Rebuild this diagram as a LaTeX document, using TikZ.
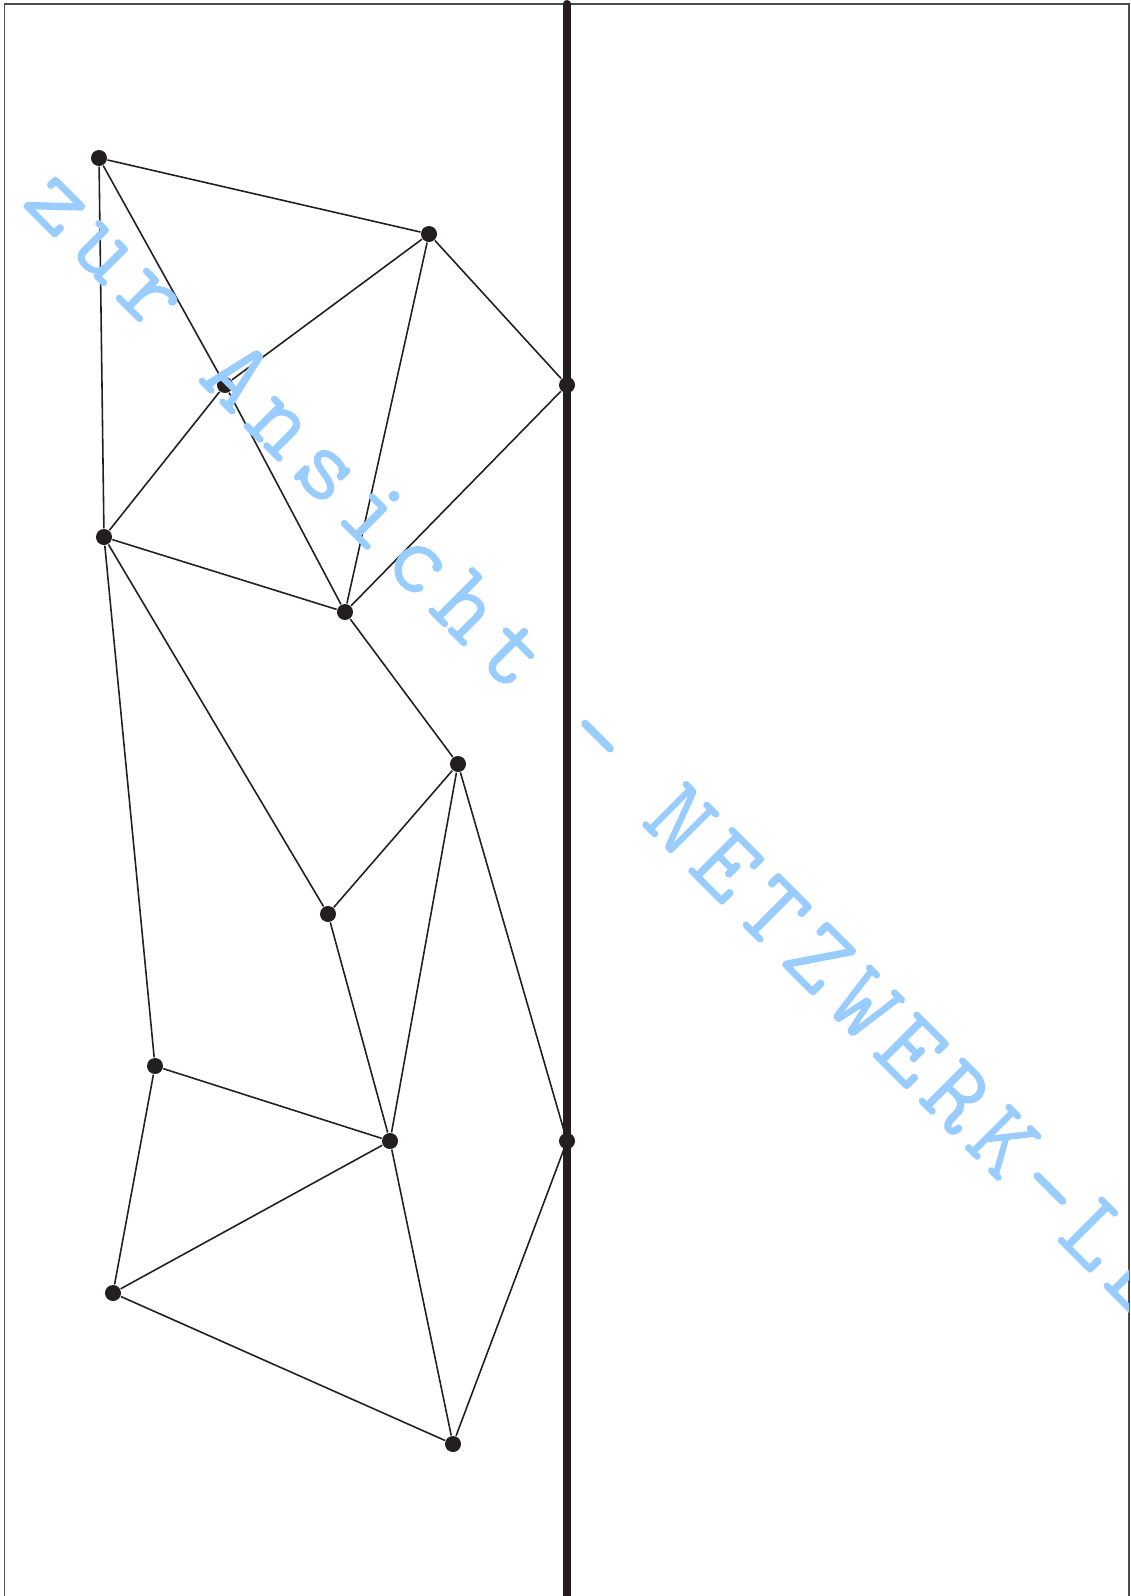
\documentclass[tikz,border=0pt]{standalone}
\usepackage{fontspec}
\newfontfamily\wmfont[LetterSpace=12.6, FakeBold=2.5]{lmmonolt10-regular.otf}
\begin{document}
\begin{tikzpicture}[x=0.01cm, y=-0.01cm]
	\definecolor{netzblack}{RGB}{35,31,32}
	\definecolor{wmblue}{RGB}{153,204,255}
	\tikzset{
		knoten/.style={circle, fill=netzblack, inner sep=0pt, minimum size=0.16cm},
		kante/.style={netzblack, line width=0.45pt},
	}
	\useasboundingbox (0,0) rectangle (1131,1596);
	
	% 边框
	\draw[gray!60!black, line width=0.5pt] (4.5,1700) -- (4.5,4) -- (1129,4) -- (1129,1700);
	
	% 粗竖线
	\coordinate (oben) at (567,3.5);
	\coordinate (unten) at (567,1700);
	\draw[netzblack, line width=2pt, line cap=round] (oben) -- (unten);
	
	% 节点
	\node[knoten] (a) at (99,158) {};
	\node[knoten] (b) at (429,234) {};
	\node[knoten] (c) at (225,385) {};
	\node[knoten] (d) at (567,385) {};
	\node[knoten] (e) at (104,537) {};
	\node[knoten] (f) at (345,612) {};
	\node[knoten] (g) at (458,764) {};
	\node[knoten] (h) at (328,914) {};
	\node[knoten] (i) at (155,1066) {};
	\node[knoten] (j) at (390,1141) {};
	\node[knoten] (k) at (567,1141) {};
	\node[knoten] (l) at (113,1293) {};
	\node[knoten] (m) at (453,1444) {};
	
	% 边
	\foreach \s/\t in {a/b, a/c, c/f, a/e, b/c, b/d, b/f, c/e, d/f, e/f, e/h, e/i,
		f/g, g/h, g/j, g/k, h/j, i/j, i/l, j/l, j/m, k/m, l/m}
		\draw[kante] (\s) -- (\t);
	
	% 水印
	\begin{scope}
		\clip (4.5,4) rectangle (1129,1596);
		\node[wmblue, rotate=-45, anchor=base west, inner sep=0pt,
			font=\wmfont\fontsize{28.5}{34}\selectfont] (wasserzeichen) at (21,203) {zur Ansicht - NETZWERK-LE};
	\end{scope}
\end{tikzpicture}
\end{document}
